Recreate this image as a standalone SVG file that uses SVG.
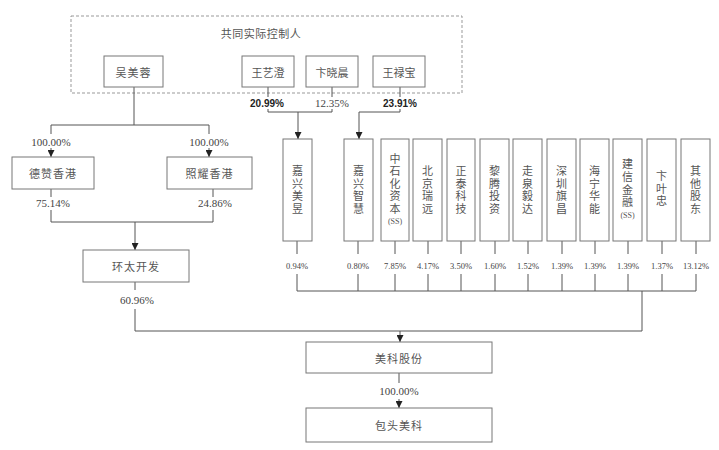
<svg xmlns="http://www.w3.org/2000/svg" width="719" height="450" viewBox="0 0 719 450">
<defs>
<marker id="arr" viewBox="0 0 8 8" refX="8" refY="4" markerWidth="7" markerHeight="7" markerUnits="userSpaceOnUse" orient="auto"><path d="M0,0 L8,4 L0,8 z" fill="#222"/></marker>
</defs>
<style>
.box{fill:#fff;stroke:#777;stroke-width:1}
.cn{font-family:"Noto Sans CJK SC",sans-serif;font-size:11px;fill:#555;text-anchor:middle;dominant-baseline:central}
.vt{font-family:"Noto Sans CJK SC",sans-serif;font-size:11px;fill:#555;text-anchor:middle;writing-mode:vertical-rl;text-orientation:upright;letter-spacing:1.6px}
.ss{font-family:"Liberation Serif",serif;font-size:8px;fill:#555;text-anchor:middle;dominant-baseline:central}
.pct{font-family:"Liberation Serif",serif;font-size:11px;fill:#444;text-anchor:middle}
.sm{font-family:"Liberation Serif",serif;font-size:8.5px;fill:#444;text-anchor:middle}
.bold{font-family:"Liberation Sans",sans-serif;font-weight:bold;font-size:10px;fill:#222;text-anchor:middle}
.ln{fill:none;stroke:#555;stroke-width:1}
.ar{fill:none;stroke:#555;stroke-width:1;marker-end:url(#arr)}
</style>
<rect width="719" height="450" fill="#fff"/>

<g id="controllers">
<rect x="71" y="16" width="391" height="77" fill="none" stroke="#999" stroke-width="1" stroke-dasharray="3 2"/>
<text class="cn" x="261" y="33" letter-spacing="0.5">共同实际控制人</text>
</g>

<g id="connectors">
<path class="ln" d="M134,87 V125 M51,125 H209 M51,125 V134 M209,125 V134"/>
<path class="ar" d="M51,148 V157"/>
<path class="ar" d="M209,148 V157"/>
<path class="ln" d="M51,189 V197 M51,210 V222 H213 V210 M213,197 V189"/>
<path class="ar" d="M135,222 V250"/>
<path class="ln" d="M135,282 V290 M135,309 V331 H642 V291 M297,291 H696"/>
<path class="ar" d="M400,331 V342"/>
<path class="ln" d="M399,373 V383"/>
<path class="ar" d="M399,399 V408"/>
<path class="ln" d="M268,87 V97 M268,109 V112 H332 V109 M332,97 V87 M400,87 V97 M400,109 V112 H359"/>
<path class="ar" d="M298,112 V139"/>
<path class="ar" d="M359,112 V139"/>
<path class="ln" d="M297,241 V254 M297,274 V291 M358,241 V254 M358,274 V291 M395,241 V254 M395,274 V291 M428,241 V254 M428,274 V291 M461,241 V254 M461,274 V291 M495,241 V254 M495,274 V291 M528,241 V254 M528,274 V291 M562,241 V254 M562,274 V291 M595,241 V254 M595,274 V291 M628,241 V254 M628,274 V291 M662,241 V254 M662,274 V291 M696,241 V254 M696,274 V291"/>
</g>

<g id="labels">
<text class="bold" x="267" y="107">20.99%</text>
<text class="pct" x="332" y="107">12.35%</text>
<text class="bold" x="400" y="107">23.91%</text>
<text class="pct" x="51" y="146">100.00%</text>
<text class="pct" x="209" y="146">100.00%</text>
<text class="pct" x="53" y="207">75.14%</text>
<text class="pct" x="215" y="207">24.86%</text>
<text class="pct" x="137" y="304">60.96%</text>
<text class="pct" x="399" y="395">100.00%</text>
<text class="sm" x="297" y="269">0.94%</text>
<text class="sm" x="358" y="269">0.80%</text>
<text class="sm" x="395" y="269">7.85%</text>
<text class="sm" x="428" y="269">4.17%</text>
<text class="sm" x="461" y="269">3.50%</text>
<text class="sm" x="495" y="269">1.60%</text>
<text class="sm" x="528" y="269">1.52%</text>
<text class="sm" x="562" y="269">1.39%</text>
<text class="sm" x="595" y="269">1.39%</text>
<text class="sm" x="628" y="269">1.39%</text>
<text class="sm" x="662" y="269">1.37%</text>
<text class="sm" x="696" y="269">13.12%</text>
</g>

<g id="n-wumeirong"><rect class="box" x="104" y="56" width="59" height="31"/><text class="cn" x="133.5" y="72" letter-spacing="1">吴美蓉</text></g>
<g id="n-wangyicheng"><rect class="box" x="242" y="56" width="52" height="31"/><text class="cn" x="268" y="72">王艺澄</text></g>
<g id="n-bianxiaochen"><rect class="box" x="306" y="56" width="52" height="31"/><text class="cn" x="332" y="72">卞晓晨</text></g>
<g id="n-wanglubao"><rect class="box" x="373" y="56" width="52" height="31"/><text class="cn" x="399" y="72">王禄宝</text></g>

<g id="n-dezan"><rect class="box" x="12" y="157" width="82" height="32"/><text class="cn" x="53" y="173" letter-spacing="1">德赞香港</text></g>
<g id="n-zhaoyao"><rect class="box" x="167" y="157" width="85" height="32"/><text class="cn" x="209.5" y="173" letter-spacing="1">照耀香港</text></g>
<g id="n-huantai"><rect class="box" x="83" y="250" width="106" height="32"/><text class="cn" x="136" y="266" letter-spacing="1">环太开发</text></g>
<g id="n-meike"><rect class="box" x="306" y="342" width="186" height="31"/><text class="cn" x="399" y="357.5" letter-spacing="1">美科股份</text></g>
<g id="n-baotou"><rect class="box" x="306" y="408" width="186" height="34"/><text class="cn" x="399" y="425" letter-spacing="1">包头美科</text></g>

<g id="n-jiaxingmeiyu"><rect class="box" x="283" y="139" width="29" height="102"/><text class="vt" x="297.5" y="190.5">嘉兴美昱</text></g>
<g id="n-jiaxingzhihui"><rect class="box" x="344" y="139" width="29" height="102"/><text class="vt" x="358.5" y="190.5">嘉兴智慧</text></g>
<g id="n-zhongshihua"><rect class="box" x="381" y="139" width="28" height="102"/><text class="vt" x="395" y="184.5">中石化资本</text><text class="ss" x="395" y="221">(SS)</text></g>
<g id="n-beijingruiyuan"><rect class="box" x="413" y="139" width="29" height="102"/><text class="vt" x="427.5" y="190.5">北京瑞远</text></g>
<g id="n-zhengtai"><rect class="box" x="447" y="139" width="28" height="102"/><text class="vt" x="461" y="190.5">正泰科技</text></g>
<g id="n-liteng"><rect class="box" x="480" y="139" width="29" height="102"/><text class="vt" x="494.5" y="190.5">黎腾投资</text></g>
<g id="n-zouquan"><rect class="box" x="513" y="139" width="29" height="102"/><text class="vt" x="527.5" y="190.5">走泉毅达</text></g>
<g id="n-shenzhenqichang"><rect class="box" x="547" y="139" width="29" height="102"/><text class="vt" x="561.5" y="190.5">深圳旗昌</text></g>
<g id="n-haininghuaneng"><rect class="box" x="580" y="139" width="29" height="102"/><text class="vt" x="594.5" y="190.5">海宁华能</text></g>
<g id="n-jianxin"><rect class="box" x="613" y="139" width="29" height="102"/><text class="vt" x="627.5" y="184">建信金融</text><text class="ss" x="627.5" y="215">(SS)</text></g>
<g id="n-bianyezhong"><rect class="box" x="647" y="139" width="29" height="102"/><text class="vt" x="661.5" y="189.5" letter-spacing="3">卞叶忠</text></g>
<g id="n-others"><rect class="box" x="681" y="139" width="29" height="102"/><text class="vt" x="695.5" y="190.5">其他股东</text></g>
</svg>
